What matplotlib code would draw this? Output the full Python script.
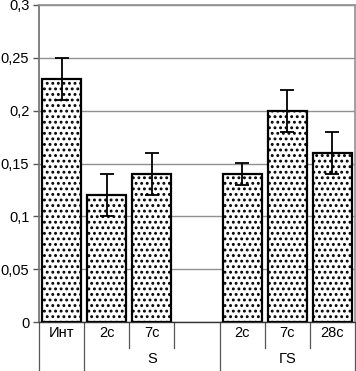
import matplotlib.pyplot as plt
import matplotlib as mpl

plt.rcParams['font.family'] = ['Liberation Sans', 'DejaVu Sans']
plt.rcParams['hatch.linewidth'] = 1.3

# данные
labels = ['Инт', '2с', '7с', '', '2с', '7с', '28с']
values = [0.23, 0.12, 0.14, None, 0.14, 0.20, 0.16]
errors = [0.02, 0.02, 0.02, None, 0.01, 0.02, 0.02]
groups = [('S', 0.5, 3.5), ('ГS', 3.5, 6.5)]
yticks = [0, 0.05, 0.1, 0.15, 0.2, 0.25, 0.3]
ytick_labels = ['0', '0,05', '0,1', '0,15', '0,2', '0,25', '0,3']

fig = plt.figure(figsize=(3.56, 3.71), dpi=100)
ax = fig.add_axes([39/356, 49/371, 316/356, 317/371])

xs = [i for i, v in enumerate(values) if v is not None]
vs = [v for v in values if v is not None]
es = [e for e in errors if e is not None]

ax.bar(xs, vs, width=0.86, color='white', edgecolor='black', linewidth=1.6,
       hatch='...', zorder=3)
ax.errorbar(xs, vs, yerr=es, fmt='none', ecolor='black', elinewidth=1.3,
            capsize=5, capthick=1.3, zorder=4)

ax.set_xlim(-0.5, len(labels) - 0.5)
ax.set_ylim(0, 0.3)
ax.set_yticks(yticks)
ax.set_yticklabels(ytick_labels, fontsize=10.5)
ax.yaxis.grid(True, color='#909090', linewidth=1)
ax.set_axisbelow(True)
ax.tick_params(axis='y', length=4, width=1, color='#555555', pad=3)
ax.set_xticks([])

for s in ['top', 'right']:
    ax.spines[s].set_color('#909090')
    ax.spines[s].set_linewidth(1.2)
ax.spines['left'].set_color('#777777')
ax.spines['left'].set_linewidth(1.3)
ax.spines['bottom'].set_color('#333333')
ax.spines['bottom'].set_linewidth(1)

trans = ax.get_xaxis_transform()
for i, lab in enumerate(labels):
    ax.text(i, -0.035, lab, transform=trans, ha='center', va='center', fontsize=10.5)

# разделители категорий
short_seps = [1.5, 2.5, 4.5, 5.5]
long_seps = [-0.5, 0.5, 3.5, 6.5]
for x in short_seps:
    ax.plot([x, x], [0, -0.082], transform=trans, color='#555555', lw=0.9, clip_on=False)
for x in long_seps:
    ax.plot([x, x], [0, -0.16], transform=trans, color='#555555', lw=0.9, clip_on=False)

for name, a, b in groups:
    ax.text((a + b) / 2, -0.117, name, transform=trans, ha='center', va='center', fontsize=10.5)

fig.savefig('out.png', dpi=100)
